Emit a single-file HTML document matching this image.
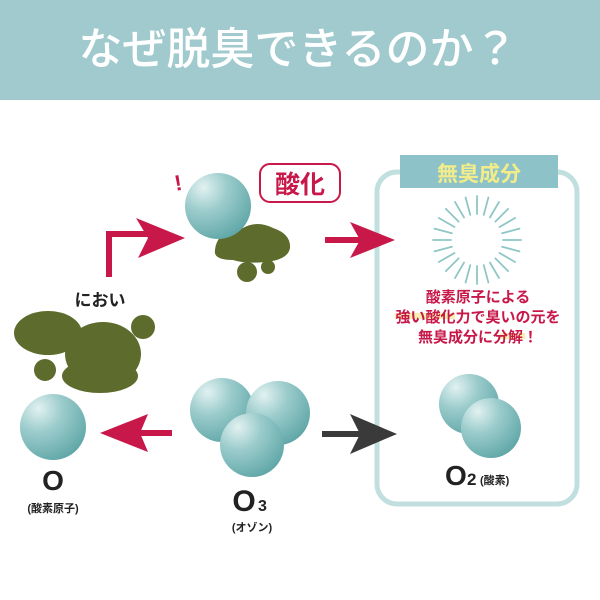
<!DOCTYPE html>
<html><head><meta charset="utf-8">
<style>
html,body{margin:0;padding:0;background:#fff;width:600px;height:600px;overflow:hidden}
svg{display:block}
text{font-family:"Liberation Sans","Noto Sans CJK JP",sans-serif}
</style></head><body>
<svg width="600" height="600" viewBox="0 0 600 600" xmlns="http://www.w3.org/2000/svg">
<defs>
<radialGradient id="sp" cx="0.28" cy="0.22" r="0.9">
<stop offset="0" stop-color="#e2f1f1"/>
<stop offset="0.4" stop-color="#9ccccc"/>
<stop offset="1" stop-color="#5aa3a4"/>
</radialGradient>
</defs>
<rect x="0" y="0" width="600" height="100" fill="#a0cace"/>
<text x="298" y="64" font-size="44" fill="#fff" text-anchor="middle" font-weight="500">なぜ脱臭できるのか？</text>

<rect x="377" y="172" width="200" height="332" rx="20" fill="#fff" stroke="#c2dfe0" stroke-width="5"/>
<rect x="400" y="155" width="158" height="33" fill="#8dc3c8"/>
<text x="479" y="181" font-size="21" fill="#f3ec8a" text-anchor="middle" font-weight="bold">無臭成分</text>
<g stroke="#8fc6c6" stroke-width="1.8" stroke-linecap="round" transform="translate(477,240)">
<line x1="26" y1="0" x2="44" y2="0"/><line x1="26" y1="0" x2="44" y2="0" transform="rotate(15)"/><line x1="26" y1="0" x2="44" y2="0" transform="rotate(30)"/><line x1="26" y1="0" x2="44" y2="0" transform="rotate(45)"/><line x1="26" y1="0" x2="44" y2="0" transform="rotate(60)"/><line x1="26" y1="0" x2="44" y2="0" transform="rotate(75)"/><line x1="26" y1="0" x2="44" y2="0" transform="rotate(90)"/><line x1="26" y1="0" x2="44" y2="0" transform="rotate(105)"/><line x1="26" y1="0" x2="44" y2="0" transform="rotate(120)"/><line x1="26" y1="0" x2="44" y2="0" transform="rotate(135)"/><line x1="26" y1="0" x2="44" y2="0" transform="rotate(150)"/><line x1="26" y1="0" x2="44" y2="0" transform="rotate(165)"/><line x1="26" y1="0" x2="44" y2="0" transform="rotate(180)"/><line x1="26" y1="0" x2="44" y2="0" transform="rotate(195)"/><line x1="26" y1="0" x2="44" y2="0" transform="rotate(210)"/><line x1="26" y1="0" x2="44" y2="0" transform="rotate(225)"/><line x1="26" y1="0" x2="44" y2="0" transform="rotate(240)"/><line x1="26" y1="0" x2="44" y2="0" transform="rotate(255)"/><line x1="26" y1="0" x2="44" y2="0" transform="rotate(270)"/><line x1="26" y1="0" x2="44" y2="0" transform="rotate(285)"/><line x1="26" y1="0" x2="44" y2="0" transform="rotate(300)"/><line x1="26" y1="0" x2="44" y2="0" transform="rotate(315)"/><line x1="26" y1="0" x2="44" y2="0" transform="rotate(330)"/><line x1="26" y1="0" x2="44" y2="0" transform="rotate(345)"/>
</g>
<rect x="395" y="313" width="60" height="6" fill="#f6ec9a" opacity="0.8"/>
<rect x="500" y="333" width="25" height="6" fill="#f6ec9a" opacity="0.8"/>
<g font-size="15" font-weight="bold" fill="#c8184a" text-anchor="middle">
<text x="478" y="302">酸素原子による</text>
<text x="478" y="322">強い酸化力で臭いの元を</text>
<text x="478" y="342">無臭成分に分解！</text>
</g>
<circle cx="469" cy="404" r="30" fill="url(#sp)"/>
<circle cx="491" cy="428" r="30" fill="url(#sp)"/>
<text x="445" y="485" font-size="28" font-weight="bold" fill="#222">O</text>
<text x="467" y="485" font-size="17" font-weight="bold" fill="#222">2</text>
<text x="480" y="484" font-size="11" font-weight="bold" fill="#222">(酸素)</text>

<path d="M215 250 q2-20 28-22 q14-8 30 0 q18 6 17 20 q-2 12-25 14 q-20 2-32 -2 q-20 0-18-10z" fill="#5d6b2c"/>
<circle cx="247" cy="272" r="10" fill="#5d6b2c"/>
<circle cx="268" cy="267" r="7" fill="#5d6b2c"/>
<circle cx="218" cy="206" r="33" fill="url(#sp)"/>
<text x="174" y="190" font-size="22" font-weight="bold" fill="#c8184a" transform="rotate(-10 180 180)">!</text>
<rect x="260" y="164" width="80" height="38" rx="10" fill="#fff" stroke="#c8184a" stroke-width="2"/>
<text x="300" y="193" font-size="25" font-weight="bold" fill="#c8184a" text-anchor="middle">酸化</text>

<path d="M109 277 V234 H148" fill="none" stroke="#c8184a" stroke-width="6"/>
<path d="M136 218 L185 238 L138 258 L148 238 z" fill="#c8184a"/>
<line x1="325" y1="240" x2="362" y2="240" stroke="#c8184a" stroke-width="6"/>
<path d="M350 222 L395 240 L350 258 L360 240z" fill="#c8184a"/>

<text x="100" y="306" font-size="17" font-weight="bold" fill="#222" text-anchor="middle">におい</text>
<g fill="#5d6b2c">
<ellipse cx="48" cy="333" rx="34" ry="22"/>
<ellipse cx="103" cy="354" rx="38" ry="32"/>
<circle cx="143" cy="327" r="12"/>
<circle cx="45" cy="370" r="11"/>
<ellipse cx="100" cy="376" rx="38" ry="17"/>
</g>

<circle cx="53" cy="427" r="33" fill="url(#sp)"/>
<text x="53" y="490" font-size="28" font-weight="bold" fill="#222" text-anchor="middle">O</text>
<text x="53" y="512" font-size="11" font-weight="bold" fill="#222" text-anchor="middle">(酸素原子)</text>
<line x1="140" y1="433" x2="172" y2="433" stroke="#c8184a" stroke-width="6"/>
<path d="M100 433 L148 414 L140 433 L148 452z" fill="#c8184a"/>

<circle cx="222" cy="410" r="32" fill="url(#sp)"/>
<circle cx="278" cy="413" r="32" fill="url(#sp)"/>
<circle cx="252" cy="445" r="32" fill="url(#sp)"/>
<text x="244" y="511" font-size="30" font-weight="bold" fill="#222" text-anchor="middle">O</text>
<text x="258" y="511" font-size="16" font-weight="bold" fill="#222">3</text>
<text x="252" y="531" font-size="11" font-weight="bold" fill="#222" text-anchor="middle">(オゾン)</text>
<line x1="322" y1="434" x2="362" y2="434" stroke="#3a3a3a" stroke-width="6"/>
<path d="M350 414 L397 434 L350 454 L360 434z" fill="#3a3a3a"/>
</svg>
</body></html>
